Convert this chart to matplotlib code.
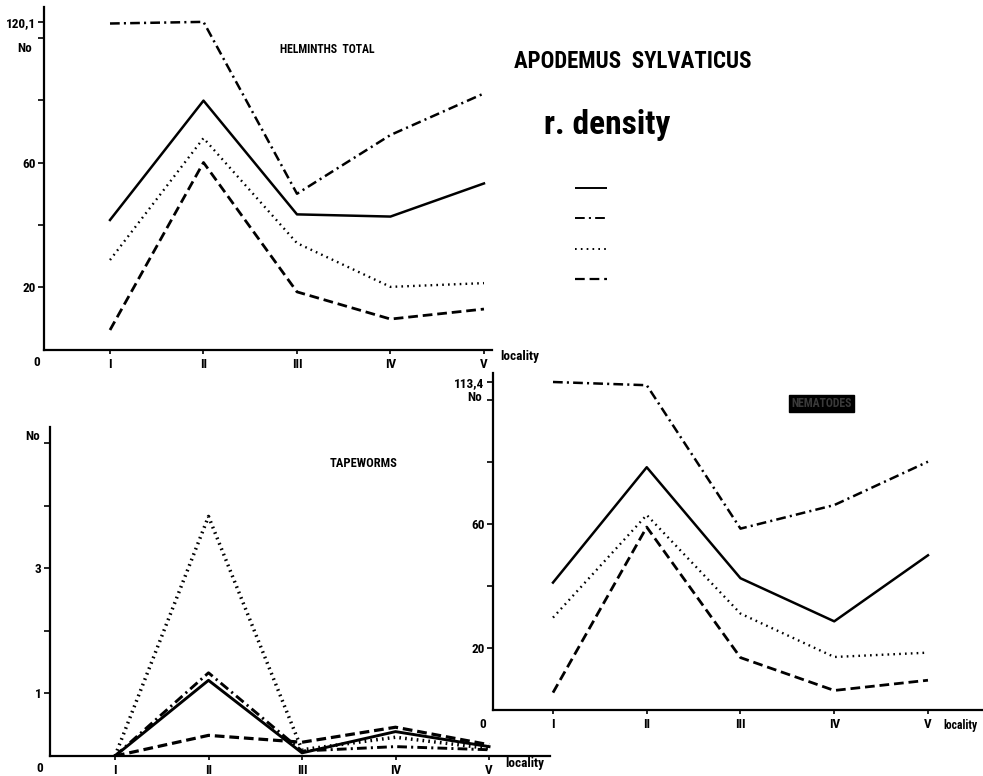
import numpy as np
import matplotlib
matplotlib.use("Agg")
import matplotlib.pyplot as plt

plt.rcParams['font.family'] = ['Liberation Sans Narrow', 'Roboto Condensed', 'DejaVu Sans']
plt.rcParams['font.weight'] = 'bold'
plt.rcParams['font.stretch'] = 'condensed'
plt.rcParams['lines.scale_dashes'] = False

# localities along the transect
localities = ["I", "II", "III", "IV", "V"]
x = np.arange(1, 6)

# helminths total (No per host)
total_solid = [41.6, 79.8, 43.4, 42.7, 53.3]
total_dashdot = [118.0, 120.1, 50.0, 68.8, 82.1]
total_dotted = [28.8, 67.8, 34.2, 20.2, 21.4]
total_dashed = [6.4, 60.0, 18.6, 9.9, 13.1]

# tapeworms
tape_solid = [0.0, 1.21, 0.05, 0.39, 0.15]
tape_dashdot = [0.0, 1.33, 0.08, 0.15, 0.10]
tape_dotted = [0.0, 3.83, 0.10, 0.30, 0.12]
tape_dashed = [0.0, 0.33, 0.22, 0.46, 0.18]

# nematodes
nema_solid = [41.1, 78.3, 42.5, 28.6, 49.9]
nema_dashdot = [113.4, 111.0, 58.5, 66.1, 80.1]
nema_dotted = [29.8, 62.9, 31.1, 17.1, 18.5]
nema_dashed = [5.6, 59.0, 16.9, 6.3, 9.6]

W, H = 983, 776
fig = plt.figure(figsize=(W / 100, H / 100), dpi=100)

SOLID = '-'
DASHDOT = (0, (7, 3, 1.5, 3))
DOTTED = (0, (1.2, 3))
DASHED = (0, (7, 3.5))


def px_axes(left, top, right, bottom):
    return fig.add_axes([left / W, 1 - bottom / H, (right - left) / W, (bottom - top) / H])


def broken_scale(k):
    # linear up to 100, compressed above the axis break
    def fwd(y):
        y = np.asarray(y, dtype=float)
        return np.where(y <= 100, y, 100 + (y - 100) * k)

    def inv(y):
        y = np.asarray(y, dtype=float)
        return np.where(y <= 100, y, 100 + (y - 100) / k)
    return fwd, inv


def style_axes(ax, xlim, ylim, yticks, ylabels):
    ax.set_xlim(*xlim)
    ax.set_ylim(*ylim)
    ax.patch.set_visible(False)
    for s in ['top', 'right']:
        ax.spines[s].set_visible(False)
    for s in ['left', 'bottom']:
        ax.spines[s].set_linewidth(1.6)
    ax.set_xticks(x)
    ax.set_xticklabels(localities)
    ax.set_yticks(yticks)
    ax.set_yticklabels(ylabels)
    ax.tick_params(axis='both', direction='out', width=1.2, labelsize=9.5)
    ax.tick_params(axis='x', length=3, pad=3)
    ax.tick_params(axis='y', length=4, pad=2)


def draw_series(ax, solid, dashdot, dotted, dashed, lw=1.8, dot_lw=1.7):
    ax.plot(x, solid, color='black', lw=lw, linestyle=SOLID)
    ax.plot(x, dashdot, color='black', lw=lw, linestyle=DASHDOT)
    ax.plot(x, dotted, color='black', lw=dot_lw, linestyle=DOTTED)
    ax.plot(x, dashed, color='black', lw=lw + 0.2, linestyle=DASHED)


def corner_labels(ax, zero_off, loc_off, no_xy, loc_size=9.5):
    ax.annotate('0', xy=(0, 0), xycoords='axes fraction', xytext=zero_off,
                textcoords='offset pixels', ha='center', va='center', fontsize=9.5)
    ax.annotate('locality', xy=(1, 0), xycoords='axes fraction', xytext=loc_off,
                textcoords='offset pixels', ha='left', va='center', fontsize=loc_size)
    fig.text(no_xy[0] / W, 1 - no_xy[1] / H, 'No', ha='left', va='center', fontsize=9.5)


# helminths total
k_top = 5 / 20.1
ax1 = px_axes(44, 7, 492, 350)
ax1.set_yscale('function', functions=broken_scale(k_top))
style_axes(ax1, (0.294, 5.086), (0, 100 + 9.76 / k_top),
           [20, 40, 60, 80, 100, 120.1], ['20', '', '60', '', '', '120,1'])
draw_series(ax1, total_solid, total_dashdot, total_dotted, total_dashed)
ax1.text(0.632, 0.875, 'HELMINTHS  TOTAL', transform=ax1.transAxes,
         ha='center', va='center', fontsize=8.5)
corner_labels(ax1, (-7, -13), (8, -7), (17, 48))

# tapeworms
ax2 = px_axes(50, 427, 550, 756)
style_axes(ax2, (0.305, 5.652), (0, 5.26), [1, 2, 3, 4, 5], ['1', '', '3', '', ''])
draw_series(ax2, tape_solid, tape_dashdot, tape_dotted, tape_dashed, lw=2.1, dot_lw=2.5)
ax2.text(0.628, 0.89, 'TAPEWORMS', transform=ax2.transAxes,
         ha='center', va='center', fontsize=9)
corner_labels(ax2, (-10, -12), (-45, -8), (25, 437))

# nematodes
k_nem = 5.8 / 13.4
ax3 = px_axes(493, 373, 983, 710)
ax3.set_yscale('function', functions=broken_scale(k_nem))
style_axes(ax3, (0.36, 5.587), (0, 100 + 8.7 / k_nem),
           [20, 40, 60, 80, 100, 113.4], ['20', '', '60', '', '', '113,4'])
draw_series(ax3, nema_solid, nema_dashdot, nema_dotted, nema_dashed)
ax3.text(0.67, 0.91, 'NEMATODES', transform=ax3.transAxes, ha='center', va='center',
         fontsize=8.5, color='#3a3a3a',
         bbox=dict(facecolor='black', edgecolor='black', pad=1.5))
corner_labels(ax3, (-10, -15), (-40, -15), (467, 398), loc_size=8.5)

# heading
fig.text(633 / W, 1 - 62 / H, 'APODEMUS  SYLVATICUS', ha='center', va='center',
         fontsize=16.5, fontweight='bold')
fig.text(607 / W, 1 - 125 / H, 'r. density', ha='center', va='center',
         fontsize=24, fontweight='bold')

# line key
key = px_axes(575, 180, 607, 287)
key.set_axis_off()
key.set_xlim(0, 1)
key.set_ylim(-3.25, 0.25)
key_styles = [(SOLID, 1.4), (DASHDOT, 1.4), (DOTTED, 1.4), (DASHED, 1.6)]
for i, (ls, w) in enumerate(key_styles):
    key.plot([0, 1], [-i, -i], color='black', lw=w, linestyle=ls)

fig.savefig('out.png', dpi=100)
